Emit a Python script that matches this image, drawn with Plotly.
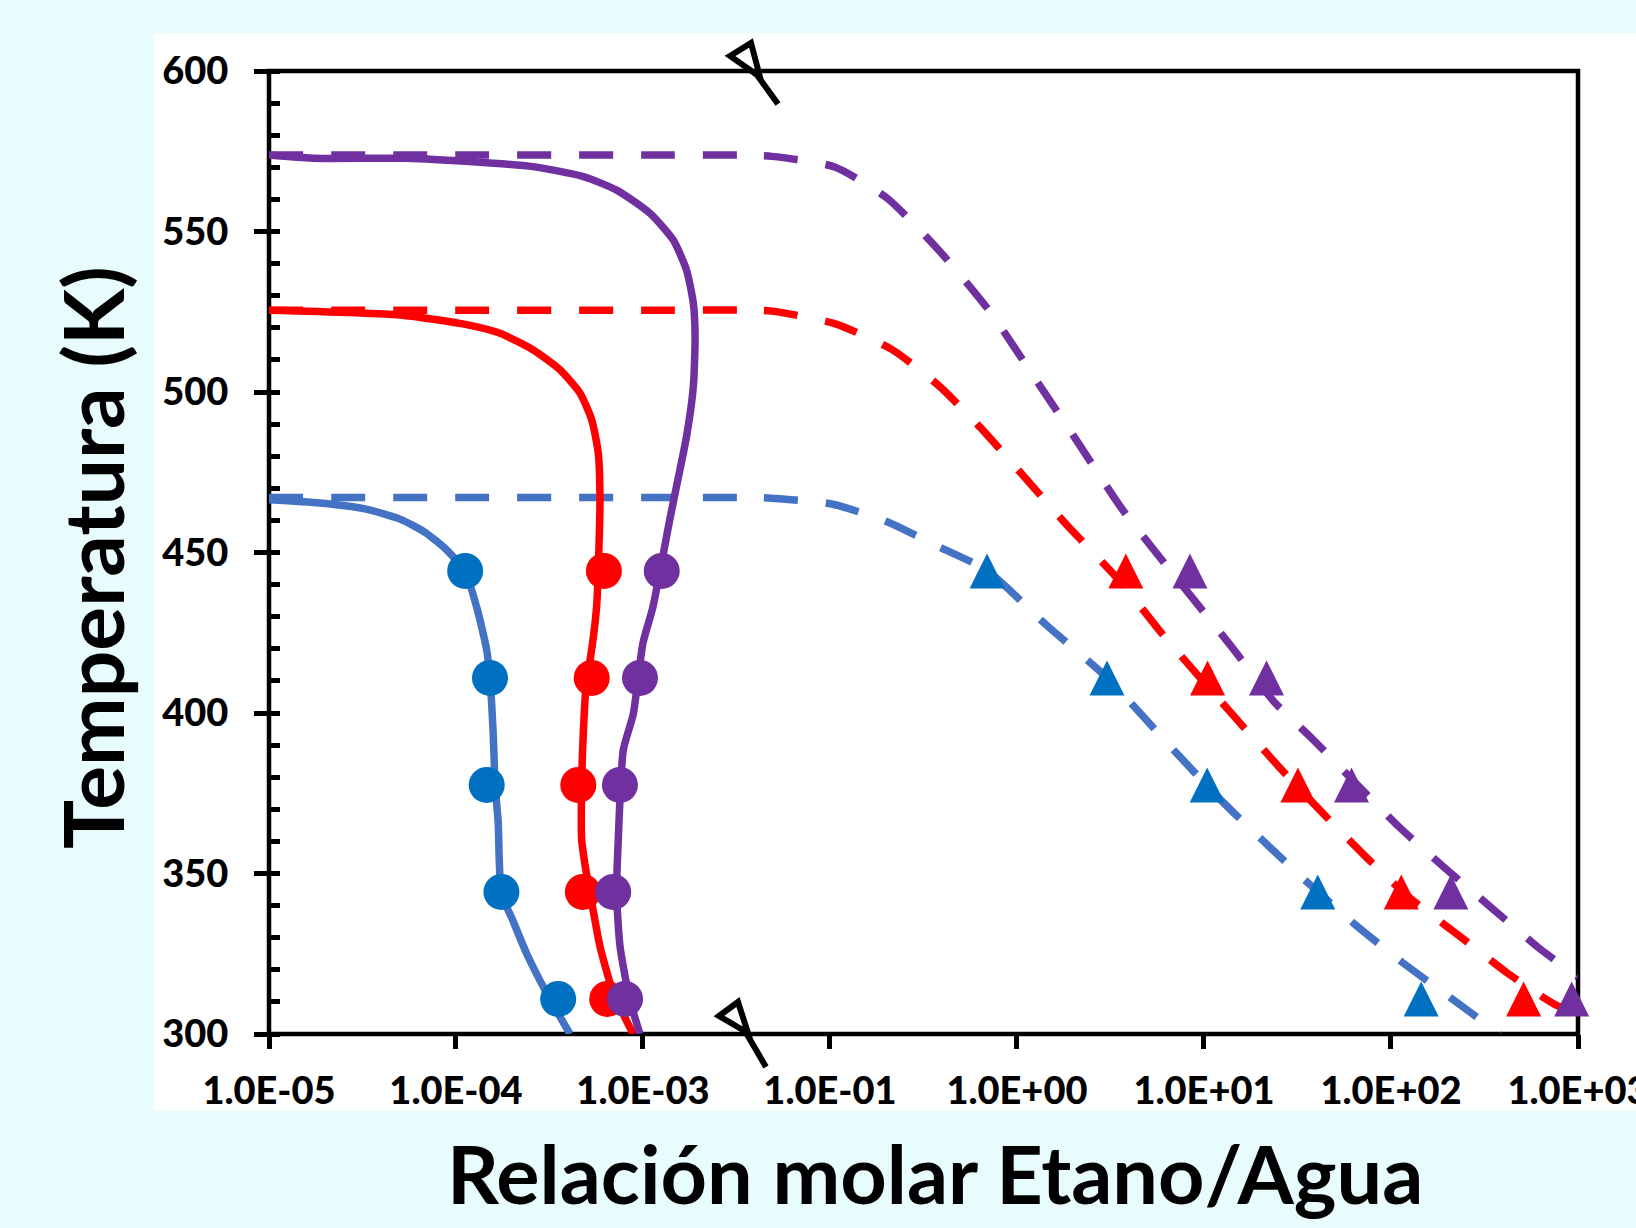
import plotly.graph_objects as go

# ---------------- data ----------------
T_points = [444.26, 410.93, 377.59, 344.26, 310.93]

# experimental points on the solid curves (circles)
blue_circ_x = [1.12e-4, 1.52e-4, 1.46e-4, 1.75e-4, 3.52e-4]
red_circ_x = [6.18e-4, 5.32e-4, 4.51e-4, 4.77e-4, 6.44e-4]
purple_circ_x = [1.26e-3, 9.64e-4, 7.53e-4, 6.93e-4, 8.02e-4]

# experimental points on the dashed curves (triangles)
blue_tri_x = [0.692, 3.03, 10.4, 40.6, 145]
red_tri_x = [3.82, 10.45, 31.8, 113.5, 512]
purple_tri_x = [8.41, 21.6, 61.5, 209, 925]

# solid curves
blue_solid_x = [1.0e-5, 1.87e-5, 3.26e-5, 5.02e-5, 6.83e-5, 8.95e-5, 1.12e-4, 1.29e-4, 1.46e-4,
                1.52e-4, 1.58e-4, 1.62e-4, 1.68e-4, 1.75e-4, 2.02e-4, 2.39e-4, 3.05e-4, 4.07e-4]
blue_solid_T = [466.4, 465.4, 463.6, 460.4, 456.3, 450.7, 444.0, 433.0, 419.6,
                410.7, 394.1, 377.4, 366.4, 343.9, 335.2, 325.0, 312.8, 300.0]

red_solid_x = [1.0e-5, 5.02e-5, 1.14e-4, 1.72e-4, 2.59e-4, 3.60e-4, 4.61e-4, 5.32e-4, 5.77e-4,
               5.89e-4, 5.84e-4, 5.65e-4, 5.21e-4, 5.00e-4, 4.80e-4, 4.70e-4, 4.70e-4, 5.00e-4,
               5.42e-4, 5.89e-4, 6.94e-4, 8.87e-4]
red_solid_T = [525.5, 524.0, 521.0, 518.3, 513.1, 506.9, 499.6, 491.3, 480.9,
               466.4, 455.2, 433.0, 416.3, 410.7, 394.1, 377.4, 360.7, 349.5,
               338.4, 327.3, 312.8, 300.0]

purple_solid_x = [1.0e-5, 1.72e-5, 5.45e-5, 1.23e-4, 2.58e-4, 4.80e-4, 7.23e-4, 1.09e-3, 1.45e-3,
                  1.71e-3, 1.86e-3, 1.90e-3, 1.86e-3, 1.71e-3, 1.51e-3, 1.39e-3, 1.13e-3, 1.00e-3,
                  8.87e-4, 7.85e-4, 7.38e-4, 7.23e-4, 7.54e-4, 8.51e-4, 9.64e-4]
purple_solid_T = [573.8, 572.8, 572.8, 571.7, 570.2, 567.1, 562.9, 555.7, 547.4,
                  538.0, 527.6, 517.2, 501.7, 486.1, 470.5, 460.1, 433.0, 421.8,
                  399.6, 388.5, 360.7, 344.0, 327.3, 310.6, 300.0]

# dashed curves
blue_dash_x = [1e-5, 1e-3, 0.03, 0.043, 0.102, 0.202, 0.378, 0.692, 1.43, 3.03, 7.0, 13.0, 33.7, 63.4,
               114.5, 209, 383]
blue_dash_T = [467.1, 467.1, 467.1, 467.1, 465.1, 459.6, 451.9, 444.4, 427.5, 411.0, 388.0, 371.5, 348.6,
               334.4, 322.4, 311.2, 300.0]

red_dash_x = [1e-5, 1e-3, 0.03, 0.049, 0.106, 0.215, 0.383, 0.640, 1.07, 1.78, 3.60, 5.89, 9.95, 15.9,
              26.0, 43.8, 74.0, 126, 234, 428, 763, 1000]
red_dash_T = [525.5, 525.5, 525.5, 525.2, 521.3, 513.2, 501.9, 488.8, 474.2, 459.6, 440.7, 425.1, 409.7,
              396.3, 382.3, 368.4, 355.0, 342.4, 330.4, 318.6, 309.0, 306.9]

purple_dash_x = [1e-5, 1e-3, 0.03, 0.049, 0.106, 0.202, 0.383, 0.726, 1.22, 2.04, 3.60, 5.59, 8.91,
                 14.2, 23.7, 38.3, 110, 193.5, 345, 614, 1000]
purple_dash_T = [573.8, 573.8, 573.8, 573.4, 570.1, 560.4, 544.1, 524.6, 505.1, 485.7, 464.0, 449.7,
                 435.0, 420.3, 403.5, 391.7, 364.6, 351.8, 339.3, 326.9, 317.8]

# tick labels
left_tickvals = [1e-5, 1e-4, 1e-3]
left_ticktext = ["1.0E-05", "1.0E-04", "1.0E-03"]
right_tickvals = [1e-1, 1e0, 1e1, 1e2, 1e3]
right_ticktext = ["1.0E-01", "1.0E+00", "1.0E+01", "1.0E+02", "1.0E+03"]

# ---------------- style ----------------
BLUE_LINE = "#4472C4"
BLUE_MK = "#0070C0"
RED = "#FF0000"
PURPLE = "#7030A0"
LW = 7.5
DASH = "34px,28px"
FONT = "Lato"

BRK = 0.3636                 # axis break (fraction of plot width)
LEFT_RANGE = [-5, -2.4545]   # log10 range of left segment
RIGHT_RANGE = [-1.4545, 3]   # log10 range of right segment

left_minor = [k * 10 ** e for e in range(-5, -2) for k in range(2, 10) if k * 10 ** e < 10 ** LEFT_RANGE[1]]
right_minor = [k * 10 ** e for e in range(-2, 3) for k in range(2, 10) if k * 10 ** e > 10 ** RIGHT_RANGE[0]]

fig = go.Figure()

# dashed curves (drawn on both segments of the broken axis)
for xs, ts, col in [(blue_dash_x, blue_dash_T, BLUE_LINE),
                    (red_dash_x, red_dash_T, RED),
                    (purple_dash_x, purple_dash_T, PURPLE)]:
    for xa in ["x", "x2"]:
        fig.add_trace(go.Scatter(x=xs, y=ts, xaxis=xa, yaxis="y", mode="lines",
                                 line=dict(color=col, width=LW, dash=DASH, shape="spline", smoothing=0.6),
                                 hoverinfo="skip", showlegend=False))

# solid curves
for xs, ts, col in [(blue_solid_x, blue_solid_T, BLUE_LINE),
                    (red_solid_x, red_solid_T, RED),
                    (purple_solid_x, purple_solid_T, PURPLE)]:
    fig.add_trace(go.Scatter(x=xs, y=ts, xaxis="x", yaxis="y", mode="lines",
                             line=dict(color=col, width=LW, shape="spline", smoothing=0.6),
                             hoverinfo="skip", showlegend=False))

# circles
for xs, col in [(blue_circ_x, BLUE_MK), (red_circ_x, RED), (purple_circ_x, PURPLE)]:
    fig.add_trace(go.Scatter(x=xs, y=T_points, xaxis="x", yaxis="y", mode="markers",
                             marker=dict(symbol="circle", size=36, color=col, line=dict(width=0)),
                             cliponaxis=False, showlegend=False))

# triangles (arrow-down turned 180 deg, pulled back so the triangle is centred on the point)
for xs, col in [(blue_tri_x, BLUE_MK), (red_tri_x, RED), (purple_tri_x, PURPLE)]:
    fig.add_trace(go.Scatter(x=xs, y=T_points, xaxis="x2", yaxis="y", mode="markers",
                             marker=dict(symbol="arrow-down", angle=180, size=35, standoff=17.5,
                                         color=col, line=dict(width=0)),
                             cliponaxis=False, showlegend=False))

tickfont = dict(family=FONT, size=38, color="black", weight=900)
AXW = 4.5

common_x = dict(type="log", showgrid=False, zeroline=False, showline=False, anchor="y",
                ticks="outside", ticklen=14, tickwidth=AXW, tickcolor="black",
                tickfont=tickfont, ticklabelstandoff=9, ticklabeloverflow="allow")
fig.update_layout(
    xaxis=dict(domain=[0, BRK], range=LEFT_RANGE, tickmode="array",
               tickvals=left_tickvals, ticktext=left_ticktext, **common_x),
    xaxis2=dict(domain=[BRK, 1], range=RIGHT_RANGE, tickmode="array",
                tickvals=right_tickvals, ticktext=right_ticktext, **common_x),
    # overlay axes: inner half of crossing major ticks + inner minor ticks
    xaxis3=dict(type="log", overlaying="x", anchor="y", range=LEFT_RANGE, showgrid=False, zeroline=False,
                showline=False, showticklabels=False, tickmode="array", tickvals=left_tickvals,
                ticks="inside", ticklen=9, tickwidth=AXW, tickcolor="black",
                minor=dict(tickmode="array", tickvals=left_minor, ticks="inside", ticklen=8,
                           tickwidth=3.5, tickcolor="black", showgrid=False)),
    xaxis4=dict(type="log", overlaying="x2", anchor="y", range=RIGHT_RANGE, showgrid=False, zeroline=False,
                showline=False, showticklabels=False, tickmode="array", tickvals=right_tickvals,
                ticks="inside", ticklen=9, tickwidth=AXW, tickcolor="black",
                minor=dict(tickmode="array", tickvals=right_minor, ticks="inside", ticklen=8,
                           tickwidth=3.5, tickcolor="black", showgrid=False)),
    yaxis=dict(range=[300, 600], dtick=50, tick0=300, anchor="x", showgrid=False, zeroline=False,
               showline=False, ticks="outside", ticklen=14, tickwidth=AXW, tickcolor="black",
               tickfont=tickfont, ticklabelstandoff=18,
               minor=dict(dtick=10, ticks="inside", ticklen=11, tickwidth=AXW, tickcolor="black", showgrid=False)),
    yaxis2=dict(range=[300, 600], dtick=50, tick0=300, overlaying="y", anchor="x", showgrid=False,
                zeroline=False, showline=False, showticklabels=False,
                ticks="inside", ticklen=14, tickwidth=AXW, tickcolor="black"),
)

# paper coordinates helpers (plot area: x 269..1578 px, y 71..1034 px)
def px(p):
    return (p - 269) / 1309.0

def py(p):
    return (1034 - p) / 963.0

shapes = [
    # white slide panel behind the chart
    dict(type="rect", xref="paper", yref="paper", x0=px(154), x1=px(1640), y0=py(1111), y1=py(33),
         fillcolor="white", line=dict(width=0), layer="below"),
    # plot frame
    dict(type="rect", xref="paper", yref="paper", x0=0, x1=1, y0=0, y1=1,
         line=dict(color="black", width=AXW), fillcolor="rgba(0,0,0,0)", layer="below"),
]

def brk_path(ax, ay, bx, by, cx, cy, dx, dy):
    return (f"M{px(ax)},{py(ay)} L{px(bx)},{py(by)} L{px(cx)},{py(cy)} Z "
            f"M{px(cx - 3)},{py(cy - 2)} L{px(dx)},{py(dy)}")

for pts in [(730, 56, 751, 43, 760, 77, 778, 104), (719, 1016, 738, 1002, 748, 1033, 766, 1067)]:
    shapes.append(dict(type="path", xref="paper", yref="paper", path=brk_path(*pts),
                       line=dict(color="black", width=6), fillcolor="rgba(0,0,0,0)", layer="above"))

annotations = [
    dict(text="Relación molar Etano/Agua", xref="paper", yref="paper", x=px(935), y=py(1172),
         xanchor="center", yanchor="middle", showarrow=False,
         font=dict(family=FONT, size=81, color="black", weight=700)),
    dict(text="Temperatura (K)", xref="paper", yref="paper", x=px(92), y=py(558), textangle=-90,
         xanchor="center", yanchor="middle", showarrow=False,
         font=dict(family=FONT, size=82, color="black", weight=700)),
]

fig.update_layout(
    width=1636, height=1228,
    margin=dict(l=269, r=58, t=71, b=194, autoexpand=False),
    paper_bgcolor="#e8fbfd", plot_bgcolor="rgba(0,0,0,0)",
    shapes=shapes, annotations=annotations, showlegend=False,
)

fig.write_html("out.html")
